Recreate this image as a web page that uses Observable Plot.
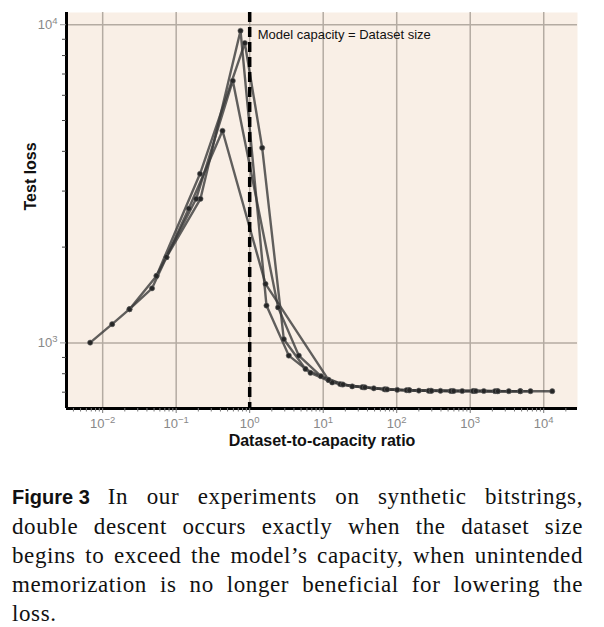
<!DOCTYPE html>
<html>
<head>
<meta charset="utf-8">
<script src="https://cdn.jsdelivr.net/npm/d3@7"></script>
<script src="https://cdn.jsdelivr.net/npm/@observablehq/plot@0.6"></script>
<style>
  body { margin: 0; background: #ffffff; width: 604px; }
  #chart svg { display: block; }
  #caption {
    margin: 20px 0 0 12px;
    width: 571px;
    font-family: "Liberation Serif", "Times New Roman", serif;
    font-size: 23px;
    letter-spacing: 0.6px;
    line-height: 29px;
    color: #111;
  }
  #caption .l { text-align: justify; text-align-last: justify; }
  #caption .last { text-align: left; }
  #caption .fig { display: inline-block; font-family: "Liberation Sans", Arial, sans-serif; font-weight: bold; font-size: 20px; letter-spacing: 0; margin-right: 18px; white-space: nowrap; }
  text.ticklab { font-size: 13px !important; fill: #888; }
  tspan.base { font-size: 13px; }
  tspan.exp { font-size: 9.5px; }
</style>
</head>
<body>
<div id="chart"></div>
<div id="caption">
  <div class="l"><span class="fig">Figure 3</span>In our experiments on synthetic bitstrings,</div>
  <div class="l">double descent occurs exactly when the dataset size</div>
  <div class="l">begins to exceed the model’s capacity, when unintended</div>
  <div class="l">memorization is no longer beneficial for lowering the</div>
  <div class="last">loss.</div>
</div>
<script>
// ---- data (dataset-to-capacity ratio, test loss) ----
const ratioA = [0.00676, 0.01346, 0.02316, 0.0469, 0.0738, 0.1484, 0.4265, 1.641, 11.8, 18.1, 35.7, 70.4, 146, 288, 569, 1119, 2329, 4833, 13050];
const lossA  = [1002, 1145, 1276, 1484, 1860, 2644, 4642, 1532, 765, 740, 725, 714, 710, 707, 706, 706, 705, 705, 705];

const ratioB = [0.0738, 0.214, 0.750, 1.692, 3.404, 6.715, 13.25, 24.8, 48.8, 101.6, 200, 394, 778, 1531, 3350, 6607];
const lossB  = [1860, 2837, 9575, 1310, 912, 805, 751, 730, 720, 712, 708, 707, 706, 706, 705, 705];

const ratioC = [0.054, 0.211, 0.858, 1.479, 2.911, 5.744, 11.8, 17, 34, 68, 136, 272, 544, 1088, 2176];
const lossC  = [1624, 3400, 8760, 4104, 1027, 828, 765, 742, 726, 715, 710, 707, 706, 706, 705];

const ratioD = [0.02316, 0.054, 0.187, 0.589, 2.434, 4.656, 9.3, 18.6, 37, 74, 149, 298, 596, 1192, 2384, 4770];
const lossD  = [1276, 1624, 2837, 6666, 1293, 912, 786, 740, 725, 714, 710, 707, 706, 706, 705, 705];

const seriesNames = ["A", "B", "C", "D"];

const xMajor = [1e-2, 1e-1, 1, 10, 100, 1000, 10000];
const xMajorExp = ["−2", "−1", "0", "1", "2", "3", "4"];
const yMajor = [1000, 10000];
const yMajorExp = ["3", "4"];
const yMinor = [700, 800, 900, 2000, 3000, 4000, 5000, 6000, 7000, 8000, 9000];

const xDomain = [0.00322, 28800];
const yDomain = [622, 10925];

const xTitle = "Dataset-to-capacity ratio";
const yTitle = "Test loss";
const annotation = "Model capacity = Dataset size";

// ---- build table ----
const rows = [];
[[ratioA, lossA], [ratioB, lossB], [ratioC, lossC], [ratioD, lossD]].forEach(([r, l], s) => {
  r.forEach((v, i) => rows.push({series: seriesNames[s], ratio: v, loss: l[i]}));
});

const xMinor = [];
for (let e = -3; e <= 4; e++) {
  for (let m = 2; m <= 9; m++) {
    const v = m * Math.pow(10, e);
    if (v > xDomain[0] && v < xDomain[1]) xMinor.push(v);
  }
}

const chart = Plot.plot({
  width: 604,
  height: 462,
  marginLeft: 66,
  marginRight: 27,
  marginTop: 12,
  marginBottom: 54,
  style: {fontFamily: "'Liberation Sans', Arial, Helvetica, sans-serif", background: "transparent"},
  x: {type: "log", domain: xDomain},
  y: {type: "log", domain: yDomain},
  marks: [
    Plot.frame({fill: "#f9efe6", stroke: null}),
    Plot.gridX(xMajor, {stroke: "#b4aba2", strokeOpacity: 1, strokeWidth: 1.5}),
    Plot.gridY(yMajor, {stroke: "#b4aba2", strokeOpacity: 1, strokeWidth: 1.5}),
    Plot.line(rows, {x: "ratio", y: "loss", z: "series", stroke: "#3a3a3a", strokeOpacity: 0.8, strokeWidth: 2.4}),
    Plot.dot(rows, {x: "ratio", y: "loss", r: 2.6, fill: "#262626", stroke: "#666", strokeWidth: 0.6}),
    Plot.ruleX([1], {stroke: "#000", strokeWidth: 3.5, strokeDasharray: "10,5"}),
    Plot.text([annotation], {x: [1], text: d => d, frameAnchor: "top", dy: 17, dx: 8, textAnchor: "start", fontSize: 13, fill: "#111"}),
    Plot.ruleY([yDomain[0]], {stroke: "#000", strokeWidth: 3}),
    Plot.ruleX([xDomain[0]], {stroke: "#000", strokeWidth: 3}),
    Plot.axisX(xMajor, {tickFormat: d => "10^" + xMajorExp[xMajor.indexOf(d)], tickSize: 5, tickPadding: 5, stroke: "#777", fill: "#888", label: null}),
    Plot.axisX(xMinor, {tickFormat: () => "", tickSize: 3.5, stroke: "#777", label: null}),
    Plot.axisY(yMajor, {tickFormat: d => "10^" + yMajorExp[yMajor.indexOf(d)], tickSize: 6, tickPadding: 3, stroke: "#999", fill: "#888", label: null}),
    Plot.axisY(yMinor, {tickFormat: () => "", tickSize: 4, stroke: "#444", label: null}),
    Plot.text([xTitle], {text: d => d, frameAnchor: "bottom", dy: 37, fontSize: 16, fontWeight: "bold", fill: "#111"}),
    Plot.text([yTitle], {text: d => d, frameAnchor: "left", dx: -36, rotate: -90, fontSize: 16, fontWeight: "bold", fill: "#111"})
  ]
});

// typeset "10^e" tick labels with a raised exponent
d3.select(chart).selectAll("text").each(function () {
  const t = this.textContent;
  if (!/^10\^/.test(t)) return;
  const [base, exp] = t.split("^");
  const el = d3.select(this);
  el.text("").classed("ticklab", true).style("font-size", "13px");
  el.append("tspan").attr("class", "base").style("font-size", "13px").text(base);
  el.append("tspan").attr("class", "exp").style("font-size", "9.5px").attr("dy", "-0.5em").text(exp);
});

document.getElementById("chart").appendChild(chart);
</script>
</body>
</html>
